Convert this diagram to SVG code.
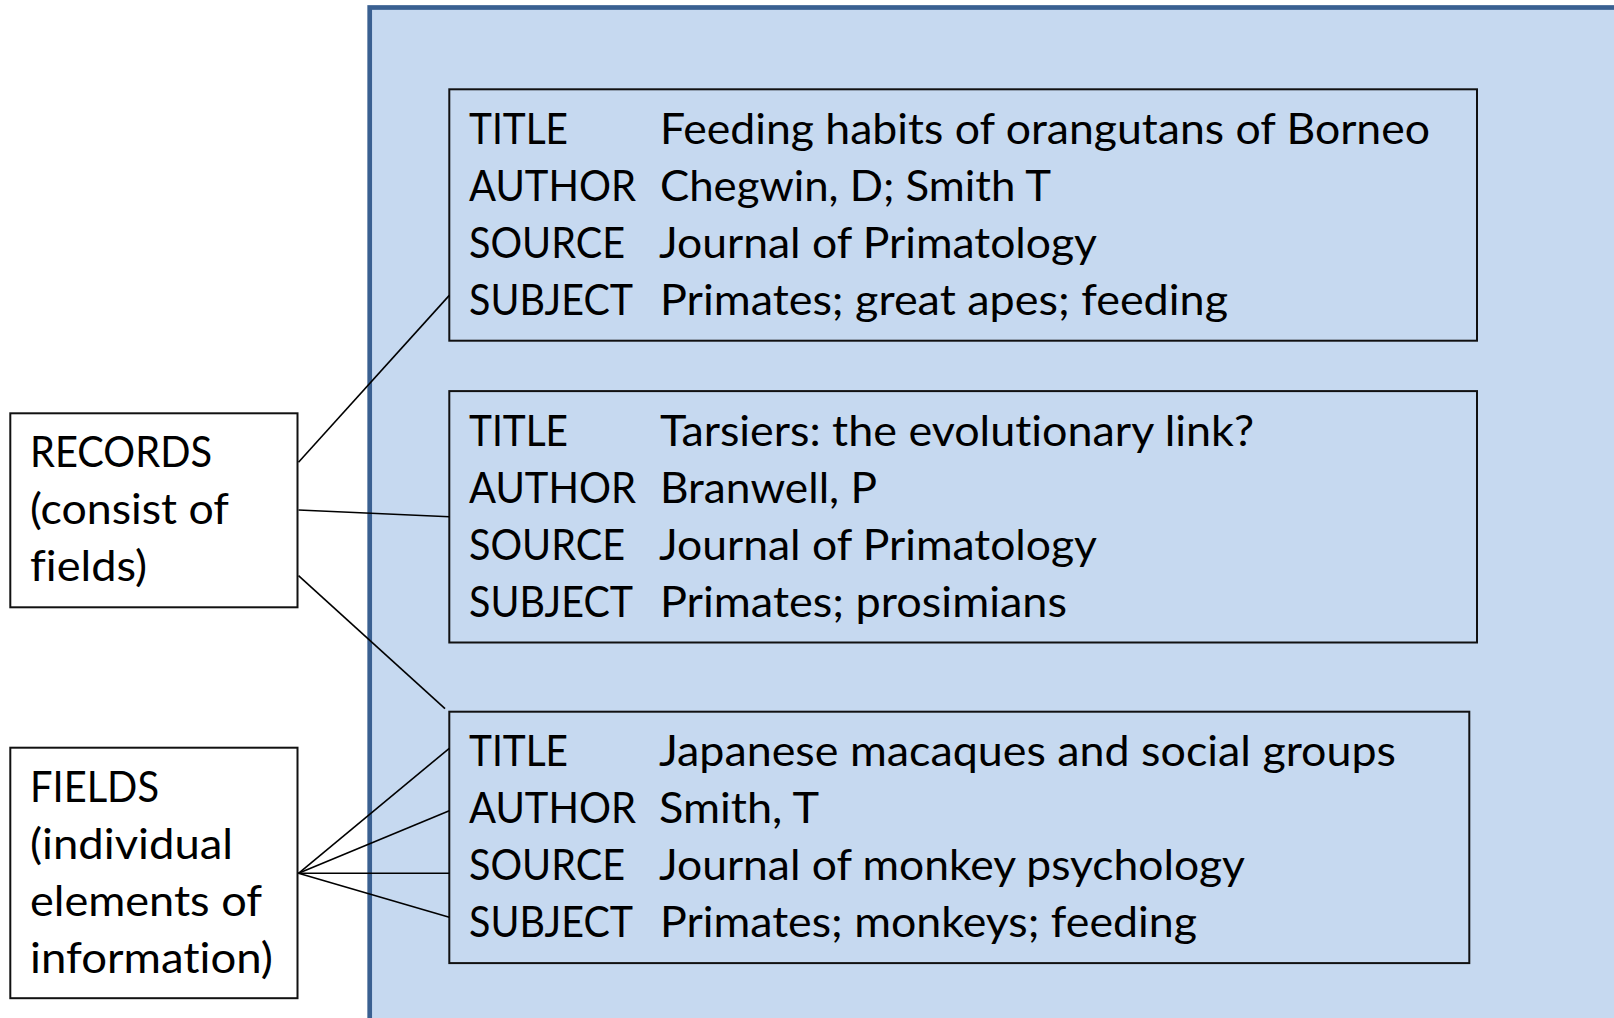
<svg xmlns="http://www.w3.org/2000/svg" width="1614" height="1018" viewBox="0 0 1614 1018">
<style>
  .bg { fill: #ffffff; }
  .panel { fill: #C6D9F0; stroke: #3A6091; stroke-width: 4.7; }
  .box { fill: none; stroke: #111111; stroke-width: 2; }
  .wbox { fill: #ffffff; stroke: #111111; stroke-width: 2; }
  .t { font-family: Lato, "Open Sans", "Liberation Sans", sans-serif; font-size: 42px; fill: #000000; font-variant-ligatures: none; font-feature-settings: "liga" 0, "clig" 0; }
  .conn line { stroke: #000000; stroke-width: 1.6; }
</style>
<rect class="bg" x="0" y="0" width="1614" height="1018"/>
<g id="panel">
  <rect class="panel" x="369.7" y="7.5" width="1300" height="1100"/>
</g>
<g id="record1">
  <rect class="box" x="449.3" y="89.3" width="1027.7" height="251.4"/>
  <text class="t" x="469" y="144" textLength="99" lengthAdjust="spacingAndGlyphs">TITLE</text>
  <text class="t" x="660" y="144" textLength="770" lengthAdjust="spacingAndGlyphs">Feeding habits of orangutans of Borneo</text>
  <text class="t" x="469" y="201" textLength="167" lengthAdjust="spacingAndGlyphs">AUTHOR</text>
  <text class="t" x="660" y="201" textLength="391" lengthAdjust="spacingAndGlyphs">Chegwin, D; Smith T</text>
  <text class="t" x="469" y="258" textLength="156" lengthAdjust="spacingAndGlyphs">SOURCE</text>
  <text class="t" x="659" y="258" textLength="438" lengthAdjust="spacingAndGlyphs">Journal of Primatology</text>
  <text class="t" x="469" y="315" textLength="164" lengthAdjust="spacingAndGlyphs">SUBJECT</text>
  <text class="t" x="660" y="315" textLength="568" lengthAdjust="spacingAndGlyphs">Primates; great apes; feeding</text>
</g>
<g id="record2">
  <rect class="box" x="449.3" y="391.1" width="1027.7" height="251.4"/>
  <text class="t" x="469" y="445.8" textLength="99" lengthAdjust="spacingAndGlyphs">TITLE</text>
  <text class="t" x="660" y="445.8" textLength="594" lengthAdjust="spacingAndGlyphs">Tarsiers: the evolutionary link?</text>
  <text class="t" x="469" y="502.8" textLength="167" lengthAdjust="spacingAndGlyphs">AUTHOR</text>
  <text class="t" x="660" y="502.8" textLength="217" lengthAdjust="spacingAndGlyphs">Branwell, P</text>
  <text class="t" x="469" y="559.8" textLength="156" lengthAdjust="spacingAndGlyphs">SOURCE</text>
  <text class="t" x="659" y="559.8" textLength="438" lengthAdjust="spacingAndGlyphs">Journal of Primatology</text>
  <text class="t" x="469" y="616.8" textLength="164" lengthAdjust="spacingAndGlyphs">SUBJECT</text>
  <text class="t" x="660" y="616.8" textLength="407" lengthAdjust="spacingAndGlyphs">Primates; prosimians</text>
</g>
<g id="record3">
  <rect class="box" x="449.3" y="711.7" width="1020" height="251.4"/>
  <text class="t" x="469" y="766.4" textLength="99" lengthAdjust="spacingAndGlyphs">TITLE</text>
  <text class="t" x="659" y="766.4" textLength="737" lengthAdjust="spacingAndGlyphs">Japanese macaques and social groups</text>
  <text class="t" x="469" y="823.4" textLength="167" lengthAdjust="spacingAndGlyphs">AUTHOR</text>
  <text class="t" x="659" y="823.4" textLength="160" lengthAdjust="spacingAndGlyphs">Smith, T</text>
  <text class="t" x="469" y="880.4" textLength="156" lengthAdjust="spacingAndGlyphs">SOURCE</text>
  <text class="t" x="659" y="880.4" textLength="586" lengthAdjust="spacingAndGlyphs">Journal of monkey psychology</text>
  <text class="t" x="469" y="937.4" textLength="164" lengthAdjust="spacingAndGlyphs">SUBJECT</text>
  <text class="t" x="660" y="937.4" textLength="537" lengthAdjust="spacingAndGlyphs">Primates; monkeys; feeding</text>
</g>
<g id="records-label">
  <rect class="wbox" x="10.3" y="413.3" width="287.2" height="194"/>
  <text class="t" x="30" y="467" textLength="182" lengthAdjust="spacingAndGlyphs">RECORDS</text>
  <text class="t" x="30" y="524" textLength="199" lengthAdjust="spacingAndGlyphs">(consist of</text>
  <text class="t" x="30" y="581" textLength="117" lengthAdjust="spacingAndGlyphs">fields)</text>
</g>
<g id="fields-label">
  <rect class="wbox" x="10.3" y="747.7" width="287.2" height="250.5"/>
  <text class="t" x="30" y="802" textLength="129" lengthAdjust="spacingAndGlyphs">FIELDS</text>
  <text class="t" x="30" y="859" textLength="203" lengthAdjust="spacingAndGlyphs">(individual</text>
  <text class="t" x="30" y="916" textLength="232" lengthAdjust="spacingAndGlyphs">elements of</text>
  <text class="t" x="30" y="973" textLength="243" lengthAdjust="spacingAndGlyphs">information)</text>
</g>
<g id="connectors" class="conn">
  <line x1="298.5" y1="462.3" x2="449.3" y2="295.4"/>
  <line x1="298.5" y1="510" x2="449.3" y2="516.7"/>
  <line x1="298.5" y1="575.7" x2="445" y2="708.7"/>
  <line x1="298.5" y1="873.3" x2="449.3" y2="748.3"/>
  <line x1="298.5" y1="873.3" x2="449.3" y2="810.7"/>
  <line x1="298.5" y1="873.3" x2="449.3" y2="873.3"/>
  <line x1="298.5" y1="873.3" x2="449.3" y2="917.3"/>
</g>
</svg>
